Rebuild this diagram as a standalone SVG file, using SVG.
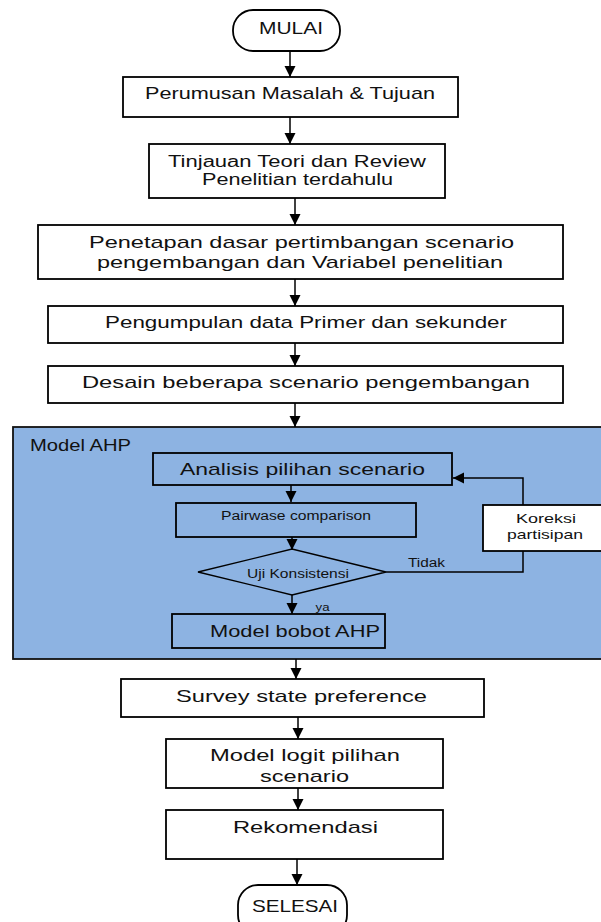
<svg xmlns="http://www.w3.org/2000/svg" width="601" height="922" viewBox="0 0 601 922">
<style>
.box{fill:#fff;stroke:#000;stroke-width:1.8}
.cont{fill:#8DB3E2;stroke:#111;stroke-width:1.8}
.t{font-family:"Liberation Sans",Arial,sans-serif;font-size:17px;fill:#111;text-anchor:middle}
.s{font-family:"Liberation Sans",Arial,sans-serif;font-size:12.5px;fill:#111;text-anchor:middle}
.c{fill:none;stroke:#000;stroke-width:1.5}
</style>
<defs>
<marker id="ah" markerUnits="userSpaceOnUse" markerWidth="12" markerHeight="12" viewBox="0 0 12 12" refX="11" refY="6" orient="auto">
<path d="M0,0.5 L11,6 L0,11.5 Z" fill="#000"/>
</marker>
</defs>
<rect width="601" height="922" fill="#fff"/>
<g id="ahp-container">
<rect class="cont" x="13" y="427" width="595" height="232"/>
<text class="t" x="80.5" y="451" textLength="101" lengthAdjust="spacingAndGlyphs">Model AHP</text>
</g>
<g id="connectors">
<line class="c" x1="290" y1="51" x2="290" y2="77" marker-end="url(#ah)"/>
<line class="c" x1="290" y1="117" x2="290" y2="144" marker-end="url(#ah)"/>
<line class="c" x1="295" y1="198" x2="295" y2="225" marker-end="url(#ah)"/>
<line class="c" x1="295" y1="279" x2="295" y2="306" marker-end="url(#ah)"/>
<line class="c" x1="295" y1="343" x2="295" y2="366" marker-end="url(#ah)"/>
<line class="c" x1="295" y1="403" x2="295" y2="427" marker-end="url(#ah)"/>
<line class="c" x1="291" y1="485" x2="291" y2="502" marker-end="url(#ah)"/>
<line class="c" x1="292" y1="537" x2="292" y2="550" marker-end="url(#ah)"/>
<line class="c" x1="292" y1="595" x2="292" y2="614" marker-end="url(#ah)"/>
<path class="c" d="M386,572 H523 V478 H453" marker-end="url(#ah)"/>
<line class="c" x1="296" y1="659" x2="296" y2="679" marker-end="url(#ah)"/>
<line class="c" x1="298" y1="717" x2="298" y2="739" marker-end="url(#ah)"/>
<line class="c" x1="298" y1="788" x2="298" y2="810" marker-end="url(#ah)"/>
<line class="c" x1="297" y1="859" x2="297" y2="885" marker-end="url(#ah)"/>
<text class="s" x="426.5" y="567" textLength="37" lengthAdjust="spacingAndGlyphs">Tidak</text>
<text class="s" x="322.5" y="611" style="font-size:10px" textLength="14" lengthAdjust="spacingAndGlyphs">ya</text>
</g>
<g id="mulai">
<rect class="box" x="233" y="10" width="107" height="41" rx="20"/>
<text class="t" x="291" y="34" textLength="64" lengthAdjust="spacingAndGlyphs">MULAI</text>
</g>
<g id="perumusan">
<rect class="box" x="123" y="77" width="335" height="40"/>
<text class="t" x="290" y="99" textLength="290" lengthAdjust="spacingAndGlyphs">Perumusan Masalah &amp; Tujuan</text>
</g>
<g id="tinjauan">
<rect class="box" x="149" y="144" width="296" height="54"/>
<text class="t" x="297" y="166.5" style="font-size:16px" textLength="258" lengthAdjust="spacingAndGlyphs">Tinjauan Teori dan Review</text>
<text class="t" x="297.5" y="184.5" style="font-size:16px" textLength="191" lengthAdjust="spacingAndGlyphs">Penelitian terdahulu</text>
</g>
<g id="penetapan">
<rect class="box" x="38" y="225" width="525" height="54"/>
<text class="t" x="301.5" y="248" textLength="425" lengthAdjust="spacingAndGlyphs">Penetapan dasar  pertimbangan scenario</text>
<text class="t" x="300" y="268" textLength="406" lengthAdjust="spacingAndGlyphs">pengembangan dan Variabel penelitian</text>
</g>
<g id="pengumpulan">
<rect class="box" x="48" y="306" width="515" height="37"/>
<text class="t" x="306" y="328" textLength="402" lengthAdjust="spacingAndGlyphs">Pengumpulan data Primer dan sekunder</text>
</g>
<g id="desain">
<rect class="box" x="48" y="366" width="515" height="37"/>
<text class="t" x="306" y="388" textLength="448" lengthAdjust="spacingAndGlyphs">Desain beberapa scenario pengembangan</text>
</g>
<g id="analisis">
<rect class="box" x="153" y="453" width="299" height="32" style="fill:none"/>
<text class="t" x="302.5" y="475" textLength="245" lengthAdjust="spacingAndGlyphs">Analisis pilihan scenario</text>
</g>
<g id="pairwise">
<rect class="box" x="176" y="503" width="240" height="34" style="fill:none"/>
<text class="s" x="296" y="520" textLength="150" lengthAdjust="spacingAndGlyphs">Pairwase comparison</text>
</g>
<g id="uji">
<polygon class="box" points="198,572 292,549 386,572 292,595" style="fill:none;stroke-width:1.3"/>
<text class="s" x="298" y="578" textLength="102" lengthAdjust="spacingAndGlyphs">Uji Konsistensi</text>
</g>
<g id="koreksi">
<rect class="box" x="483" y="505" width="125" height="46"/>
<text class="s" x="546" y="523" style="font-size:13px" textLength="60" lengthAdjust="spacingAndGlyphs">Koreksi</text>
<text class="s" x="545" y="539" style="font-size:13px" textLength="76" lengthAdjust="spacingAndGlyphs">partisipan</text>
</g>
<g id="bobot">
<rect class="box" x="172" y="614" width="213" height="34" style="fill:none"/>
<text class="t" x="295" y="637" textLength="170" lengthAdjust="spacingAndGlyphs">Model bobot AHP</text>
</g>
<g id="survey">
<rect class="box" x="121" y="679" width="363" height="38"/>
<text class="t" x="301.5" y="702" textLength="251" lengthAdjust="spacingAndGlyphs">Survey state preference</text>
</g>
<g id="logit">
<rect class="box" x="166" y="739" width="277" height="49"/>
<text class="t" x="305" y="761" textLength="190" lengthAdjust="spacingAndGlyphs">Model logit pilihan</text>
<text class="t" x="304.5" y="782" textLength="89" lengthAdjust="spacingAndGlyphs">scenario</text>
</g>
<g id="rekomendasi">
<rect class="box" x="166" y="810" width="277" height="49"/>
<text class="t" x="305.5" y="833" textLength="145" lengthAdjust="spacingAndGlyphs">Rekomendasi</text>
</g>
<g id="selesai">
<rect class="box" x="238" y="885" width="109" height="50" rx="20"/>
<text class="t" x="295" y="912" textLength="86" lengthAdjust="spacingAndGlyphs">SELESAI</text>
</g>
</svg>
